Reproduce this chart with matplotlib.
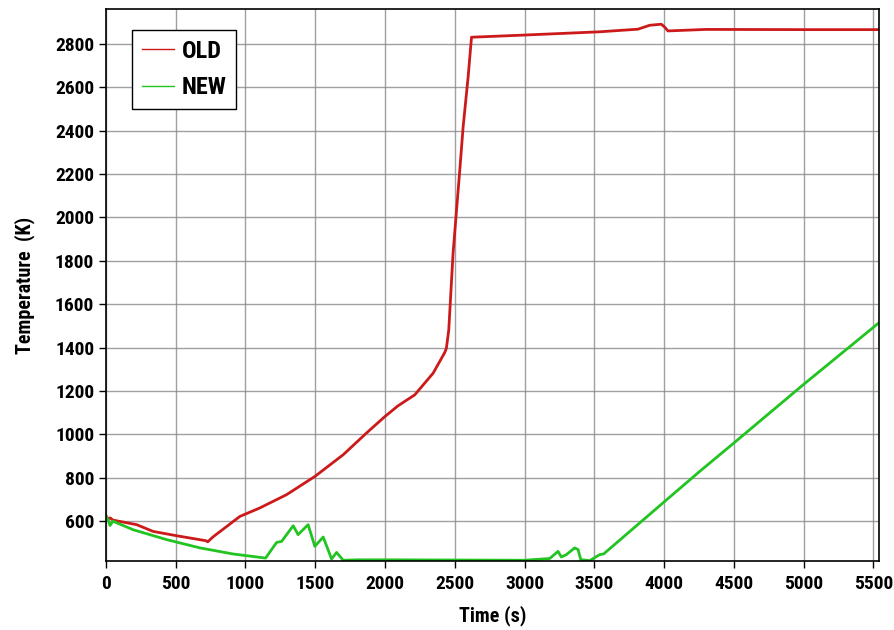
import matplotlib
matplotlib.use("Agg")
import matplotlib.pyplot as plt
from matplotlib.lines import Line2D

plt.rcParams['font.family'] = ['Liberation Sans Narrow', 'Roboto Condensed',
                               'DejaVu Sans Condensed', 'Liberation Sans', 'DejaVu Sans']
plt.rcParams['font.weight'] = 'bold'

# OLD design temperature history
old_t = [0, 15, 30, 50, 220, 337, 506, 716, 730, 766, 960, 1103, 1294, 1497, 1700,
         1867, 1999, 2094, 2213, 2345, 2428, 2440, 2457, 2488, 2536, 2560, 2596,
         2620, 3000, 3539, 3813, 3897, 3980, 4004, 4028, 4303, 5000, 5540]
old_T = [625, 610, 615, 605, 584, 553, 533, 510, 505, 527, 622, 661, 722, 806, 906,
         1006, 1082, 1132, 1182, 1282, 1377, 1397, 1481, 1836, 2218, 2417, 2648,
         2830, 2840, 2855, 2867, 2885, 2890, 2877, 2859, 2866, 2865, 2865]

# NEW design temperature history
new_t = [0, 16, 29, 50, 193, 435, 673, 910, 1144, 1223, 1259, 1342, 1377, 1449, 1497,
         1557, 1617, 1653, 1700, 1800, 2000, 2500, 3000, 3181, 3240, 3264, 3300, 3360,
         3384, 3403, 3467, 3539, 3567, 3992, 4255, 4500, 5000, 5540]
new_T = [622, 607, 580, 600, 561, 515, 477, 449, 430, 502, 507, 579, 538, 584, 484,
         527, 426, 456, 420, 422, 422, 421, 420, 428, 461, 435, 446, 477,
         469, 423, 418, 446, 449, 684, 829, 960, 1230, 1514]

xticks = list(range(0, 5501, 500))
yticks = list(range(600, 2801, 200))

red = '#cc1a1a'
green = '#22c422'

fig = plt.figure(figsize=(8.95, 6.3), dpi=100)
ax = fig.add_axes([0.1184, 0.109, 0.8636, 0.8767])

ax.plot(old_t, old_T, color=red, lw=2.0)
ax.plot(new_t, new_T, color=green, lw=2.0)

ax.set_xlim(0, 5540)
ax.set_ylim(415, 2960)
ax.set_xticks(xticks)
ax.set_yticks(yticks)
ax.grid(True, color='#888888', lw=1.0, ls='-', alpha=0.8)
ax.tick_params(direction='out', length=5, width=1, labelsize=14)
ax.tick_params(axis='x', pad=5)
for s in ax.spines.values():
    s.set_linewidth(1.2)

ax.set_xlabel('Time (s)', fontsize=14.5, fontweight='bold', labelpad=9)
ax.set_ylabel('Temperature  (K)', fontsize=14.5, fontweight='bold', labelpad=14)

handles = [Line2D([], [], color=red, lw=1.0), Line2D([], [], color=green, lw=1.0)]
leg = ax.legend(handles, ['OLD', 'NEW'], loc='upper left', bbox_to_anchor=(0.0336, 0.962),
                borderaxespad=0, fancybox=False, framealpha=1, edgecolor='black',
                fontsize=17.5, handlelength=1.35, borderpad=0.4, labelspacing=0.55,
                handletextpad=0.3)
leg.get_frame().set_linewidth(1.0)

fig.savefig('out.png', dpi=100)
